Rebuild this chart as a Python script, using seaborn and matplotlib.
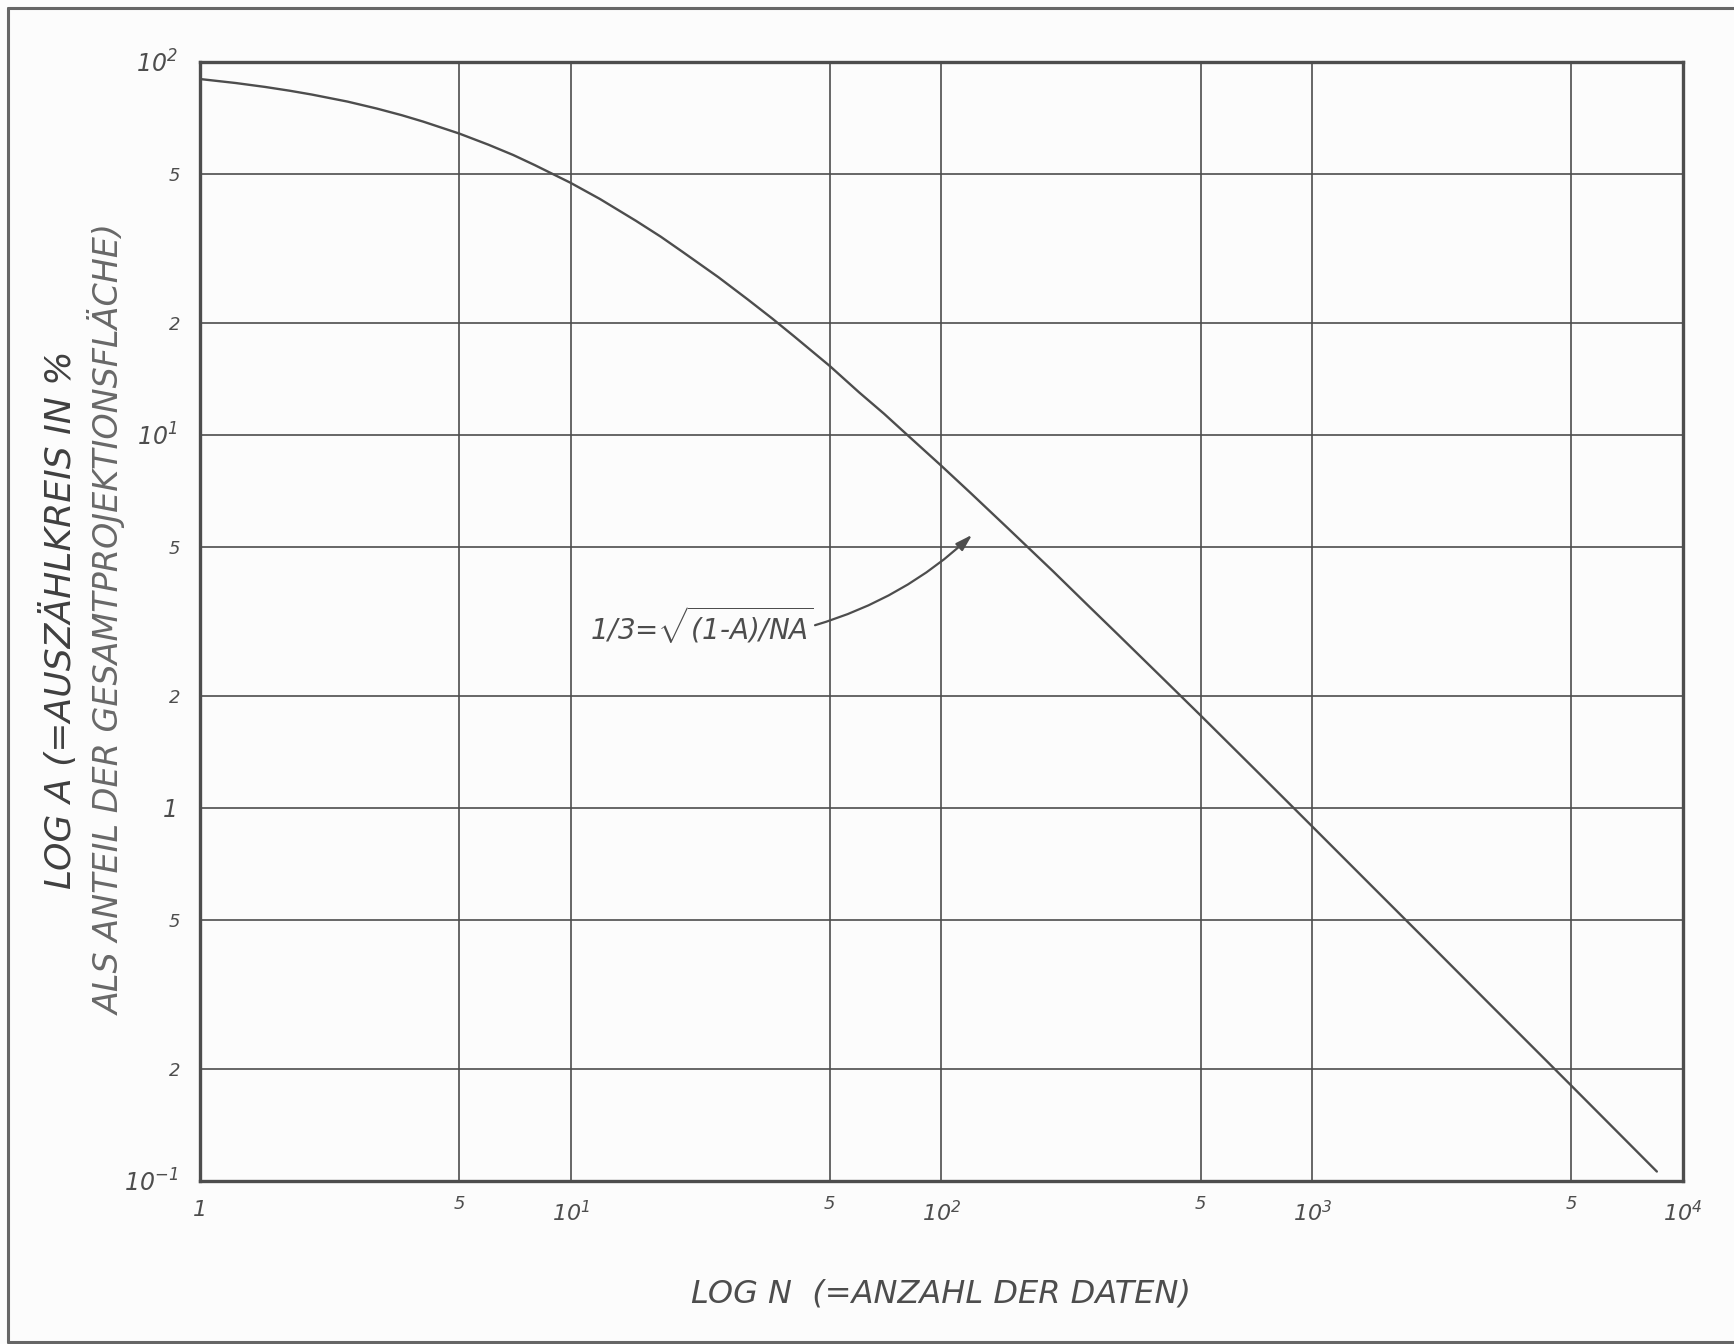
import numpy as np
import pandas as pd
import matplotlib
matplotlib.use("Agg")
import matplotlib.pyplot as plt
import seaborn as sns
from matplotlib.lines import Line2D

# curve: A (percent) over N
n_values = [1, 1.25, 1.5, 1.75, 2, 2.5, 3, 3.5, 4, 5, 6, 7, 8, 10, 12, 15,
            17.5, 20, 25, 30, 35, 40, 50, 60, 70, 80, 100, 120, 150, 200,
            250, 300, 400, 500, 700, 1000, 1500, 2000, 3000, 5000, 8500]
a_values = [90.0, 87.8, 85.7, 83.7, 81.8, 78.3, 75.0, 72.0, 69.2, 64.3, 60.0,
            56.3, 52.9, 47.4, 42.9, 37.5, 34.0, 31.0, 26.5, 23.1, 20.5, 18.4,
            15.3, 13.0, 11.4, 10.1, 8.26, 6.98, 5.66, 4.31, 3.47, 2.91, 2.20,
            1.77, 1.27, 0.892, 0.596, 0.448, 0.299, 0.180, 0.106]

x_major = [1, 10, 100, 1000, 10000]
x_major_labels = ["1", "$10^{1}$", "$10^{2}$", "$10^{3}$", "$10^{4}$"]
x_minor = [5, 50, 500, 5000]
x_minor_labels = ["5", "5", "5", "5"]

y_major = [0.1, 1, 10, 100]
y_major_labels = ["$10^{-1}$", "1", "$10^{1}$", "$10^{2}$"]
y_minor = [0.2, 0.5, 2, 5, 20, 50]
y_minor_labels = ["2", "5", "2", "5", "2", "5"]

df = pd.DataFrame({"N": n_values, "A": a_values})

sns.set_style("white")
plt.rcParams["font.family"] = ["DejaVu Sans"]
plt.rcParams["font.style"] = "italic"
plt.rcParams["mathtext.fontset"] = "custom"
plt.rcParams["mathtext.rm"] = "DejaVu Sans:italic"
plt.rcParams["mathtext.it"] = "DejaVu Sans:italic"
plt.rcParams["mathtext.sf"] = "DejaVu Sans:italic"

ink = "#4d4d4d"
fig = plt.figure(figsize=(17.34, 13.44), dpi=100, facecolor="#fcfcfc")
ax = fig.add_axes([0.1153, 0.1213, 0.8553, 0.8326])
ax.set_facecolor("#fcfcfc")

sns.lineplot(data=df, x="N", y="A", ax=ax, color=ink, linewidth=1.7,
             estimator=None, sort=True)

ax.set_xscale("log")
ax.set_yscale("log")
ax.set_xlim(1, 10000)
ax.set_ylim(0.1, 100)

ax.set_xticks(x_major)
ax.set_xticklabels(x_major_labels, fontsize=16, color=ink)
ax.set_xticks(x_minor, minor=True)
ax.set_xticklabels(x_minor_labels, minor=True, fontsize=13, color=ink)
ax.set_yticks(y_major)
ax.set_yticklabels(y_major_labels, fontsize=17, color=ink)
ax.set_yticks(y_minor, minor=True)
ax.set_yticklabels(y_minor_labels, minor=True, fontsize=13, color=ink)

ax.tick_params(axis="both", which="major", direction="out", length=8,
               width=1.5, color=ink)
ax.tick_params(axis="x", which="major", pad=6)
ax.tick_params(axis="y", which="major", pad=8)
ax.tick_params(axis="x", which="minor", length=0, pad=10)
ax.tick_params(axis="y", which="minor", length=0, pad=14)

ax.grid(True, which="both", color=ink, linewidth=1.2)
for s in ax.spines.values():
    s.set_color(ink)
    s.set_linewidth(2.4)

ax.set_xlabel("LOG N  (=ANZAHL DER DATEN)", fontsize=23, color=ink, labelpad=38)
ax.set_ylabel("")

fig.text(0.0340, 0.5387, "LOG A (=AUSZÄHLKREIS IN %", rotation=90,
         fontsize=26, color="#3f3f3f", ha="center", va="center")
fig.text(0.0620, 0.5387, "ALS ANTEIL DER GESAMTPROJEKTIONSFLÄCHE)", rotation=90,
         fontsize=24, color="#686868", ha="center", va="center")

ax.text(11.3, 2.82, r"1/3=$\sqrt{(1\text{-}A)/NA}$", fontsize=20, color=ink,
        va="baseline", ha="left")
ax.annotate("", xy=(121, 5.4), xytext=(45.6, 3.09),
            arrowprops=dict(arrowstyle="-|>,head_length=1.0,head_width=0.3",
                            color=ink, lw=1.6, shrinkA=0, shrinkB=0,
                            connectionstyle="arc3,rad=0.12"))

# page frame of the scanned drawing
for xs, ys in [([0.0046, 0.0046], [0.0015, 0.994]),
               ([0.0046, 1.0], [0.994, 0.994]),
               ([0.0046, 1.0], [0.0015, 0.0015])]:
    fig.add_artist(Line2D(xs, ys, color="#666666", linewidth=2.2,
                          transform=fig.transFigure))

fig.savefig("out.png", dpi=100, facecolor=fig.get_facecolor())
